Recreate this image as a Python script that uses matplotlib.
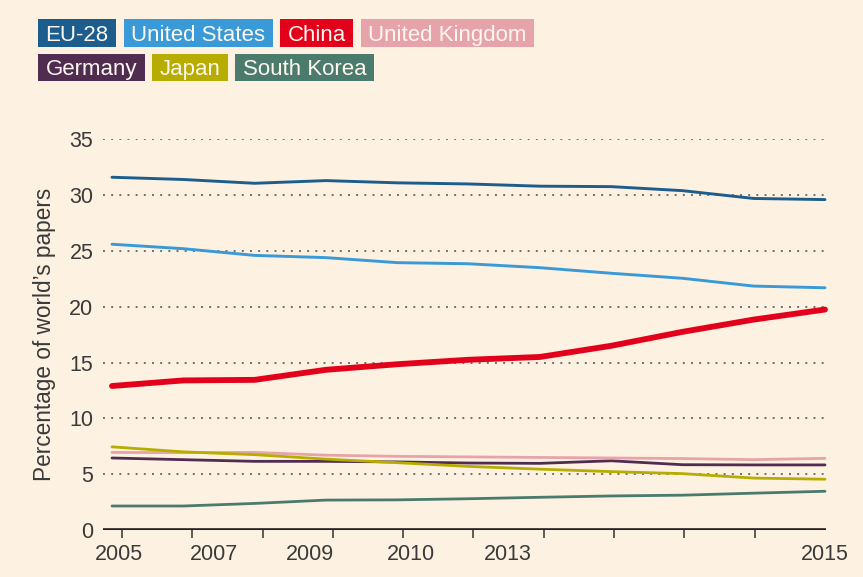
import matplotlib
matplotlib.use('Agg')
import matplotlib.pyplot as plt
import numpy as np
from matplotlib.patches import Rectangle

# ---------------- data ----------------
years = list(range(2005, 2016))
eu28 = [31.6, 31.4, 31.06, 31.3, 31.1, 31.0, 30.8, 30.76, 30.4, 29.7, 29.6]
united_states = [25.6, 25.2, 24.6, 24.4, 23.95, 23.85, 23.5, 23.0, 22.55, 21.85, 21.7]
china = [12.9, 13.4, 13.45, 14.35, 14.85, 15.25, 15.5, 16.5, 17.75, 18.85, 19.75]
united_kingdom = [6.95, 6.93, 6.95, 6.7, 6.6, 6.55, 6.5, 6.45, 6.4, 6.3, 6.42]
germany = [6.45, 6.3, 6.15, 6.15, 6.1, 6.0, 5.97, 6.2, 5.85, 5.83, 5.83]
japan = [7.45, 7.0, 6.75, 6.35, 6.03, 5.7, 5.45, 5.23, 5.05, 4.65, 4.55]
south_korea = [2.15, 2.15, 2.38, 2.68, 2.7, 2.8, 2.93, 3.05, 3.12, 3.3, 3.47]

series_names = ['EU-28', 'United States', 'China', 'United Kingdom',
                'Germany', 'Japan', 'South Korea']
y_ticks = [0, 5, 10, 15, 20, 25, 30, 35]
x_tick_labels = ['2005', '2007', '2009', '2010', '2013', '2015']
y_label = 'Percentage of world\u2019s papers'

# ---------------- style ----------------
colors = {
    'EU-28': '#1d5d8e',
    'United States': '#3a9ad8',
    'China': '#e2001a',
    'United Kingdom': '#e6a4aa',
    'Germany': '#4f2c50',
    'Japan': '#b7ad00',
    'South Korea': '#4b7b6d',
}
widths = {'EU-28': 2.1, 'United States': 2.1, 'China': 4.2,
          'United Kingdom': 2.0, 'Germany': 2.0, 'Japan': 2.0, 'South Korea': 2.0}
data = {'EU-28': eu28, 'United States': united_states, 'China': china,
        'United Kingdom': united_kingdom, 'Germany': germany, 'Japan': japan,
        'South Korea': south_korea}
draw_order = ['South Korea', 'Germany', 'United Kingdom', 'Japan',
              'United States', 'EU-28', 'China']

bg = '#fdf1e1'
txt = '#3a3a3a'
font = ['Liberation Sans', 'DejaVu Sans']
plt.rcParams['font.family'] = font

W, H = 863, 577
fig = plt.figure(figsize=(W / 100, H / 100), dpi=100)
fig.patch.set_facecolor(bg)

ax_left, ax_right, ax_top, ax_bottom = 103, 826, 139.3, 530
ax = fig.add_axes([ax_left / W, 1 - ax_bottom / H,
                   (ax_right - ax_left) / W, (ax_bottom - ax_top) / H])
ax.set_facecolor(bg)

for name in draw_order:
    ax.plot(years, data[name], color=colors[name], lw=widths[name],
            solid_capstyle='round', solid_joinstyle='round', clip_on=False, zorder=3)

ax.set_ylim(0, 35)
ax.set_xlim(2004.874, 2015.014)

for s in ax.spines.values():
    s.set_visible(False)

ax.set_yticks(y_ticks)
ax.set_yticklabels([str(v) for v in y_ticks])
ax.tick_params(axis='y', length=0, pad=7, labelsize=15.5, labelcolor=txt)
ax.yaxis.grid(True, linestyle=(0, (1, 3.2)), color='#6f6f6f', lw=1.4)
ax.set_axisbelow(True)
ax.axhline(0, color='#231f20', lw=2.6, zorder=4)

label_pos = [2005.1, 2006.43, 2007.78, 2009.19, 2010.55, 2015.0]
ax.set_xticks(label_pos)
ax.set_xticklabels(x_tick_labels)
ax.tick_params(axis='x', which='major', length=0, pad=10, labelsize=15.5, labelcolor=txt)
ax.set_xticks(np.linspace(2005.14, 2015.0, 11), minor=True)
ax.tick_params(axis='x', which='minor', length=6, width=1.1, color='#333333',
               direction='out')

ax.set_ylabel(y_label, fontsize=16.3, color=txt, va='center')
ax.yaxis.set_label_coords((45 - ax_left) / (ax_right - ax_left), 0.5)

# ---------------- legend boxes ----------------
renderer = fig.canvas.get_renderer()
rows = [(19.5, 46.5, series_names[:4]), (53.8, 81, series_names[4:])]
for top, bottom, names in rows:
    x = 38
    for name in names:
        t = fig.text(0, 0, name, fontsize=16, color='#fdf7f0',
                     ha='left', va='baseline', zorder=5)
        w = t.get_window_extent(renderer).width
        rect = Rectangle((x / W, 1 - bottom / H), (w + 15) / W, (bottom - top) / H,
                         transform=fig.transFigure, facecolor=colors[name],
                         edgecolor='none', zorder=2)
        fig.add_artist(rect)
        t.set_position(((x + 7.5) / W, 1 - (top + 21.3) / H))
        x += w + 15 + 7.5

fig.savefig('out.png', dpi=100, facecolor=bg)
